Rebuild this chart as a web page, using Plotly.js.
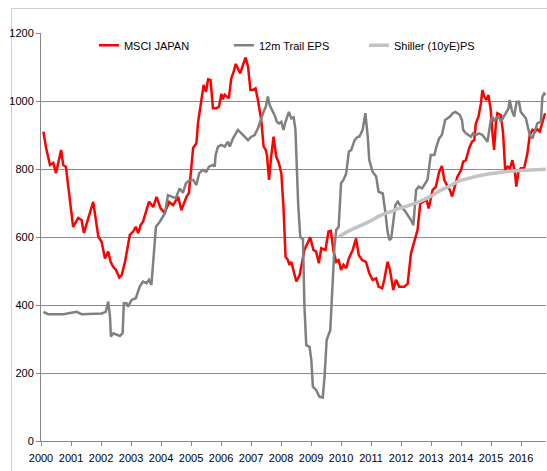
<!DOCTYPE html>
<html><head><meta charset="utf-8">
<script src="https://cdn.plot.ly/plotly-3.0.1.min.js"></script>
<style>
html,body{margin:0;padding:0;background:#fff;overflow:hidden}
#frame{position:absolute;left:11px;top:8px;width:560px;height:490px;border:1px solid #d0d0d0;box-sizing:border-box}
#chart{position:absolute;left:0;top:0;width:547px;height:471px}
</style></head>
<body>
<div id="frame"></div>
<div id="chart"></div>
<script>
const yearTicks = [2000,2001,2002,2003,2004,2005,2006,2007,2008,2009,2010,2011,2012,2013,2014,2015,2016];
const yearLabels = yearTicks.map(String);

const msciDates = [2000.08,2000.17,2000.30,2000.41,2000.50,2000.67,2000.74,2000.83,2001.07,2001.24,2001.35,2001.43,2001.74,2001.91,2002.02,2002.13,2002.24,2002.32,2002.40,2002.50,2002.61,2002.69,2002.80,2002.87,2002.96,2003.07,2003.16,2003.24,2003.32,2003.40,2003.52,2003.60,2003.74,2003.85,2003.98,2004.12,2004.27,2004.40,2004.57,2004.68,2004.85,2004.93,2005.07,2005.18,2005.23,2005.35,2005.42,2005.50,2005.57,2005.65,2005.73,2005.84,2005.93,2006.01,2006.06,2006.12,2006.26,2006.34,2006.42,2006.49,2006.56,2006.64,2006.73,2006.82,2006.90,2006.98,2007.04,2007.15,2007.23,2007.29,2007.34,2007.42,2007.49,2007.53,2007.60,2007.67,2007.75,2007.84,2007.93,2008.01,2008.08,2008.15,2008.23,2008.28,2008.34,2008.51,2008.62,2008.78,2008.97,2009.08,2009.17,2009.26,2009.34,2009.48,2009.58,2009.66,2009.75,2009.84,2009.92,2010.00,2010.08,2010.17,2010.26,2010.39,2010.50,2010.59,2010.70,2010.83,2010.94,2011.05,2011.17,2011.25,2011.37,2011.44,2011.55,2011.63,2011.74,2011.83,2011.94,2012.11,2012.22,2012.33,2012.44,2012.55,2012.64,2012.74,2012.85,2012.92,2013.05,2013.16,2013.27,2013.36,2013.44,2013.55,2013.63,2013.70,2013.81,2013.88,2014.00,2014.07,2014.16,2014.27,2014.36,2014.44,2014.49,2014.58,2014.66,2014.71,2014.77,2014.85,2014.91,2014.99,2015.05,2015.10,2015.16,2015.21,2015.33,2015.40,2015.47,2015.55,2015.63,2015.71,2015.80,2015.84,2015.91,2015.99,2016.10,2016.21,2016.29,2016.38,2016.47,2016.54,2016.62,2016.71,2016.80];
const msciValues = [910,862,812,818,788,856,812,806,630,656,650,612,703,601,586,537,557,527,513,503,481,488,527,562,606,616,630,611,635,645,679,704,688,718,685,671,703,694,718,679,719,729,862,876,934,1010,1047,1027,1064,1062,979,979,983,1021,1005,1018,1008,1067,1086,1109,1096,1081,1106,1128,1101,1032,1032,1037,1003,964,944,866,856,841,768,836,895,836,817,787,689,542,532,518,527,469,488,562,599,562,557,523,567,562,616,618,557,527,532,503,518,508,537,562,596,547,532,527,493,474,478,454,449,474,527,503,444,474,454,454,463,552,591,621,699,704,709,684,738,748,792,809,768,748,738,719,758,778,797,822,826,861,880,885,934,954,993,1032,1013,1003,1018,973,900,856,934,964,958,905,797,807,802,826,787,748,792,802,802,846,900,915,910,917,910,934,964];

const epsDates = [2000.08,2000.24,2000.74,2001.19,2001.35,2002.02,2002.16,2002.24,2002.30,2002.33,2002.41,2002.63,2002.72,2002.76,2002.85,2002.90,2003.02,2003.16,2003.29,2003.40,2003.52,2003.60,2003.68,2003.76,2003.83,2003.96,2004.05,2004.13,2004.23,2004.35,2004.49,2004.62,2004.73,2004.83,2004.93,2005.07,2005.18,2005.27,2005.38,2005.51,2005.60,2005.73,2005.79,2005.82,2005.90,2006.01,2006.12,2006.23,2006.29,2006.40,2006.56,2006.68,2006.79,2006.90,2007.01,2007.12,2007.23,2007.31,2007.40,2007.49,2007.56,2007.62,2007.71,2007.78,2007.86,2007.93,2008.01,2008.08,2008.15,2008.26,2008.34,2008.42,2008.48,2008.53,2008.57,2008.64,2008.73,2008.78,2008.84,2008.95,2009.01,2009.06,2009.17,2009.28,2009.39,2009.45,2009.52,2009.64,2009.70,2009.78,2009.84,2009.92,2010.00,2010.08,2010.17,2010.26,2010.34,2010.45,2010.56,2010.61,2010.72,2010.81,2010.89,2010.94,2011.05,2011.17,2011.25,2011.39,2011.48,2011.55,2011.61,2011.67,2011.72,2011.81,2011.89,2012.00,2012.11,2012.22,2012.33,2012.41,2012.50,2012.59,2012.70,2012.81,2012.88,2012.99,2013.11,2013.18,2013.27,2013.36,2013.47,2013.55,2013.63,2013.72,2013.81,2013.88,2013.96,2014.03,2014.07,2014.16,2014.25,2014.33,2014.40,2014.49,2014.60,2014.71,2014.80,2014.88,2014.94,2014.99,2015.05,2015.10,2015.16,2015.25,2015.33,2015.40,2015.49,2015.58,2015.62,2015.69,2015.77,2015.85,2015.93,2015.99,2016.07,2016.16,2016.21,2016.29,2016.38,2016.47,2016.54,2016.66,2016.71,2016.77,2016.82];
const epsValues = [380,373,373,380,373,375,380,410,366,307,317,309,317,405,405,395,415,420,454,469,464,474,459,542,630,645,660,670,723,719,714,743,730,758,766,768,753,787,797,792,807,812,807,841,866,871,866,880,866,890,915,905,895,885,895,900,920,944,964,983,1013,988,973,959,939,934,939,915,939,968,949,952,915,787,699,601,593,395,282,277,238,160,150,130,128,189,297,326,424,571,621,630,758,768,787,851,856,885,895,895,915,964,895,826,792,778,733,728,670,616,591,596,630,694,704,689,679,665,650,635,738,748,743,758,768,841,841,866,890,900,944,949,954,964,968,964,959,944,915,905,900,895,905,900,905,900,890,880,915,944,954,939,949,954,939,949,964,978,1003,973,954,998,998,968,959,949,929,900,890,915,934,939,1013,1022,1018];

const shillerDates = [2009.92,2010.20,2010.61,2011.00,2011.28,2011.60,2011.94,2012.30,2012.61,2012.95,2013.27,2013.60,2013.94,2014.27,2014.60,2014.95,2015.27,2015.60,2015.93,2016.30,2016.83];
const shillerValues = [600,615,632,648,662,673,684,694,704,718,735,749,765,773,780,786,790,793,795,797,799];

const labelFont = {family:'"Liberation Sans Narrow","Noto Sans Condensed","Arial Narrow","Liberation Sans",Arial,sans-serif', size:11, color:'#000'};

const traces = [
  {x: msciDates, y: msciValues, name:'MSCI JAPAN', type:'scatter', mode:'lines', line:{color:'#ff0000', width:2.5}},
  {x: epsDates, y: epsValues, name:'12m Trail EPS', type:'scatter', mode:'lines', line:{color:'#808080', width:2.5}},
  {x: shillerDates, y: shillerValues, name:'Shiller (10yE)PS', type:'scatter', mode:'lines', line:{color:'#c3c3c3', width:3.5, shape:'spline'}}
];

const layout = {
  width:547, height:471,
  margin:{l:41, r:1, t:33, b:30},
  paper_bgcolor:'rgba(0,0,0,0)', plot_bgcolor:'rgba(0,0,0,0)',
  showlegend:true,
  legend:{orientation:'h', x:0.085, y:0.97, xanchor:'left', yanchor:'middle', font:labelFont,
          entrywidth:90, entrywidthmode:'pixels', itemwidth:30, bgcolor:'rgba(0,0,0,0)', tracegroupgap:0},
  xaxis:{range:[2000,2016.83], tickvals:yearTicks, ticktext:yearLabels, showgrid:false, zeroline:false,
         showline:true, linecolor:'#888', linewidth:1, ticks:'outside', ticklen:4, tickcolor:'#888',
         tickfont:labelFont, ticklabelstandoff:3, fixedrange:true},
  yaxis:{range:[0,1200], tickvals:[0,200,400,600,800,1000,1200], showgrid:true, gridcolor:'#8c8c8c', gridwidth:1,
         zeroline:false, showline:true, linecolor:'#888', linewidth:1, ticks:'outside', ticklen:4, tickcolor:'#888',
         tickfont:labelFont, fixedrange:true}
};

Plotly.newPlot('chart', traces, layout, {staticPlot:true, displayModeBar:false}).then(function(gd){
  gd.querySelectorAll('.legend .legendlines path').forEach(function(p){ p.setAttribute('d','M15,0h20'); });
});
</script>
</body></html>
